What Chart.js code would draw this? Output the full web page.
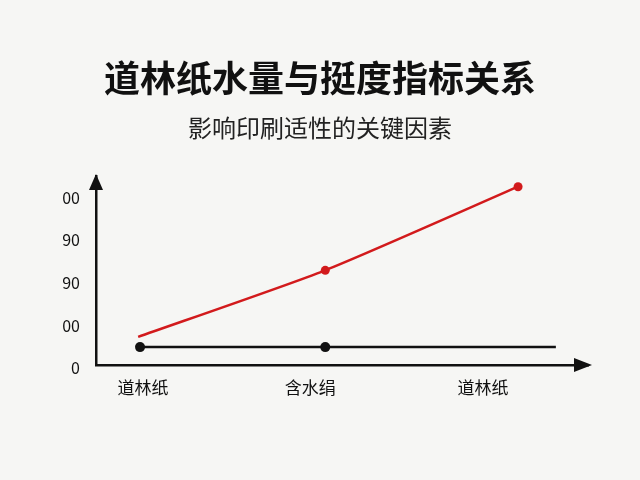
<!DOCTYPE html>
<html>
<head>
<meta charset="utf-8">
<script src="https://cdn.jsdelivr.net/npm/chart.js@4"></script>
<style>
  html, body { margin: 0; padding: 0; background: #f6f6f4; }
  #wrap { width: 640px; height: 480px; }
</style>
</head>
<body>
<div id="wrap"><canvas id="chart" width="640" height="480"></canvas></div>
<script>
const categories  = ['道林纸', '含水绢', '道林纸'];
const labelPos    = [0.016, 0.9, 1.815];
const redX        = [-0.01, 0.98, 2];
const redValues   = [16.5, 55.6, 104.7];
const blackX      = [0, 0.98, 2.2];
const blackValues = [10.5, 10.5, 10.5];
const yTickValues = [0, 25, 50, 75, 100];
const yTickLabels = ['0', '00', '90', '90', '00'];

const FONT = '"Noto Sans CJK SC", "Noto Sans", sans-serif';

// paper background + arrow heads on the two axes
const paper = {
  id: 'paper',
  beforeDraw(chart) {
    const c = chart.ctx;
    c.save();
    c.fillStyle = '#f6f6f4';
    c.fillRect(0, 0, chart.width, chart.height);
    c.restore();
  },
  afterDraw(chart) {
    const c = chart.ctx, a = chart.chartArea;
    c.save();
    c.fillStyle = '#111';
    c.beginPath();
    c.moveTo(a.left, a.top - 2);
    c.lineTo(a.left - 7, a.top + 14);
    c.lineTo(a.left + 7, a.top + 14);
    c.closePath();
    c.fill();
    c.beginPath();
    c.moveTo(a.right + 4, a.bottom);
    c.lineTo(a.right - 14, a.bottom - 7);
    c.lineTo(a.right - 14, a.bottom + 7);
    c.closePath();
    c.fill();
    c.restore();
  }
};

new Chart(document.getElementById('chart').getContext('2d'), {
  type: 'line',
  data: {
    datasets: [{
      data: redX.map((x, i) => ({ x: x, y: redValues[i] })),
      borderColor: '#d21a1c',
      backgroundColor: '#d21a1c',
      borderWidth: 2.5,
      tension: 0.2,
      pointRadius: [0, 4.5, 4.5],
      pointBorderWidth: 0
    }, {
      data: blackX.map((x, i) => ({ x: x, y: blackValues[i] })),
      borderColor: '#111',
      backgroundColor: '#111',
      borderWidth: 2.5,
      tension: 0,
      pointRadius: [5, 5, 0],
      pointBorderWidth: 0
    }]
  },
  options: {
    responsive: false,
    animation: false,
    layout: { padding: { left: 52, right: 52, top: 0, bottom: 0 } },
    plugins: {
      legend: { display: false },
      tooltip: { enabled: false },
      title: {
        display: true,
        text: '道林纸水量与挺度指标关系',
        color: '#111',
        font: { family: FONT, size: 36, weight: 'bold' },
        padding: { top: 57, bottom: 13 }
      },
      subtitle: {
        display: true,
        text: '影响印刷适性的关键因素',
        color: '#222',
        font: { family: FONT, size: 24 },
        padding: { top: 0, bottom: 34 }
      }
    },
    scales: {
      x: {
        type: 'linear',
        min: -0.233,
        max: 2.37,
        afterBuildTicks: s => { s.ticks = labelPos.map(v => ({ value: v })); },
        afterFit: s => { s.height = 115; },
        grid: { display: false, drawTicks: false },
        border: { color: '#111', width: 2.5 },
        ticks: {
          color: '#111',
          padding: 12,
          maxRotation: 0,
          font: { family: FONT, size: 17 },
          callback: (v, i) => categories[i]
        }
      },
      y: {
        min: 0,
        max: 111,
        afterBuildTicks: s => { s.ticks = yTickValues.map(v => ({ value: v })); },
        afterFit: s => { s.width = 44; },
        grid: { display: false, drawTicks: false },
        border: { color: '#111', width: 2.5 },
        ticks: {
          color: '#111',
          padding: 16,
          labelOffset: 3,
          font: { family: FONT, size: 16 },
          callback: (v, i) => yTickLabels[i]
        }
      }
    }
  },
  plugins: [paper]
});
</script>
</body>
</html>
